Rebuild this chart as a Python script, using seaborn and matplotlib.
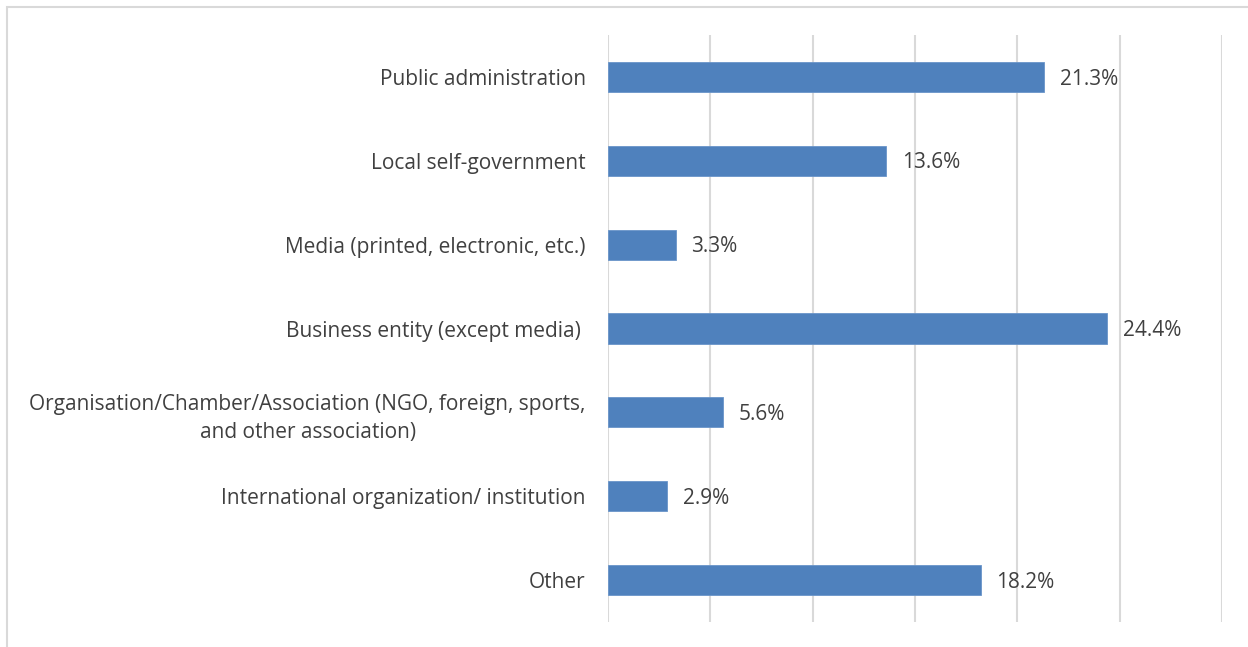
import matplotlib
matplotlib.use("Agg")
import matplotlib.pyplot as plt
from matplotlib.patches import Rectangle
import seaborn as sns
import pandas as pd

categories = [
    "Public administration",
    "Local self-government",
    "Media (printed, electronic, etc.)",
    "Business entity (except media) ",
    "Organisation/Chamber/Association (NGO, foreign, sports,\nand other association)",
    "International organization/ institution",
    "Other",
]
shares = [21.3, 13.6, 3.3, 24.4, 5.6, 2.9, 18.2]
x_ticks = [0, 5, 10, 15, 20, 25, 30]

df = pd.DataFrame({"category": categories, "share": shares})

sns.set_theme(style="white")
plt.rcParams["font.family"] = ["Open Sans", "DejaVu Sans"]

text_color = "#404040"
grid_color = "#D9D9D9"
bar_color = "#4F81BD"

fig = plt.figure(figsize=(12.48, 6.47), dpi=100)
ax = fig.add_axes([0.4872, 0.0386, 0.9792 - 0.4872, 0.9459 - 0.0386])

sns.barplot(data=df, x="share", y="category", orient="h", color=bar_color,
            width=0.36, saturation=1, ax=ax, edgecolor="#6A95C9", linewidth=0.6)

ax.set_xlim(0, 30)
ax.set_ylim(6.5, -0.5)
ax.set_xticks(x_ticks)
ax.set_xticklabels([])
ax.grid(axis="x", color=grid_color, linewidth=1.5)
ax.set_axisbelow(True)
for s in ax.spines.values():
    s.set_visible(False)
ax.tick_params(axis="both", length=0)
ax.tick_params(axis="y", pad=16, labelsize=15, labelcolor=text_color)
for lbl in ax.get_yticklabels():
    lbl.set_horizontalalignment("right")
    lbl.set_multialignment("center")
    lbl.set_linespacing(1.45)
ax.set_xlabel("")
ax.set_ylabel("")

for i, v in enumerate(shares):
    ax.annotate(f"{v:.1f}%", xy=(v, i), xytext=(11.5, -1.5), textcoords="offset points",
                va="center", ha="left", fontsize=15, color=text_color)

fig.patches.append(Rectangle((7 / 1248, -0.05), 1.1, 1 - 6.5 / 647 + 0.05,
                             transform=fig.transFigure, fill=False,
                             edgecolor=grid_color, linewidth=1.5, zorder=0))

fig.savefig("out.png", dpi=100, facecolor="white")
